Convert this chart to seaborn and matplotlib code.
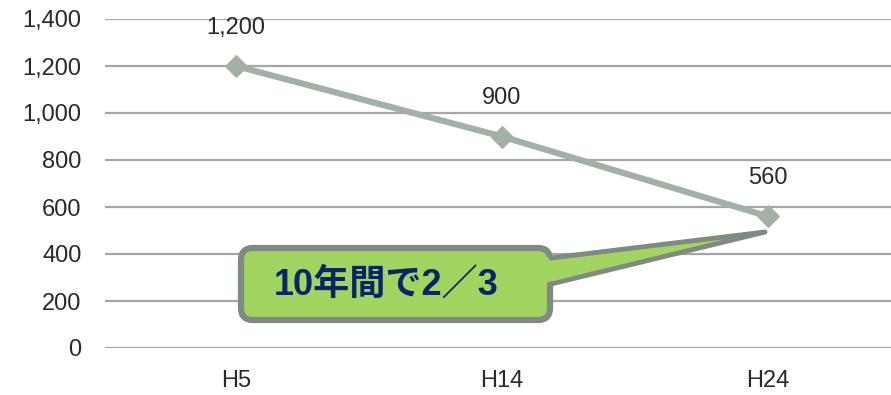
import matplotlib
matplotlib.use("Agg")
import matplotlib.pyplot as plt
import seaborn as sns
import pandas as pd
from matplotlib.patches import FancyBboxPatch, Polygon
from matplotlib.transforms import Affine2D

categories = ["H5", "H14", "H24"]
values = [1200, 900, 560]
value_labels = ["1,200", "900", "560"]
y_ticks = [0, 200, 400, 600, 800, 1000, 1200, 1400]
y_tick_labels = ["0", "200", "400", "600", "800", "1,000", "1,200", "1,400"]
callout_text = "10年間で2／3"

sns.set_theme(style="white")
plt.rcParams["font.family"] = ["Liberation Sans", "DejaVu Sans"]

W, H = 891, 395
fig = plt.figure(figsize=(W / 100, H / 100), dpi=100)
ax = fig.add_axes([105 / W, 1 - 348 / H, 1 - 105 / W, (348 - 19) / H])

df = pd.DataFrame({"cat": categories, "val": values})
line_col = "#a3b1a5"
sns.lineplot(data=df, x="cat", y="val", sort=False, ax=ax, color=line_col,
             linewidth=4.5, marker="D", markersize=11, markeredgecolor=line_col, zorder=3)

ax.set_xlim(-0.4925, 2.4624)
ax.set_ylim(0, 1400)
ax.set_yticks(y_ticks)
ax.set_yticklabels(y_tick_labels)
ax.set_xlabel("")
ax.set_ylabel("")
for s in ax.spines.values():
    s.set_visible(False)
ax.grid(axis="y", color="#a6a6a6", linewidth=1.6)
ax.grid(axis="x", visible=False)
ax.tick_params(axis="y", length=0, pad=17, labelsize=17, labelcolor="#2a2a2a")
ax.tick_params(axis="x", length=0, pad=16, labelsize=17, labelcolor="#2a2a2a")
ax.set_axisbelow(True)

for i, (v, lab) in enumerate(zip(values, value_labels)):
    ax.annotate(lab, (i, v), xytext=(0, 38), textcoords="offset pixels",
                ha="center", va="center", fontsize=17, color="#2a2a2a")

# callout in pixel coordinates (origin top-left)
px = Affine2D().scale(1, -1).translate(0, H) + Affine2D().scale(1 / W, 1 / H) + fig.transFigure
fill = "#a2d462"
edge = "#7f8a80"
box = FancyBboxPatch((241, 248), 309, 72, boxstyle="round,pad=0,rounding_size=12",
                     transform=px, facecolor=fill, edgecolor=edge, linewidth=4.5, zorder=5)
fig.add_artist(box)
tail_fill = Polygon([(540, 258), (765, 232), (540, 284)], closed=True, transform=px,
                    facecolor=fill, edgecolor="none", zorder=6)
fig.add_artist(tail_fill)
tail_edge = plt.Line2D([551, 765, 551], [258, 232, 284], transform=px, color=edge,
                       linewidth=3.5, solid_joinstyle="round", solid_capstyle="round", zorder=7)
fig.add_artist(tail_edge)
fig.text(386 / W, 1 - 285 / H, callout_text, ha="center", va="center", fontsize=26,
         fontweight="bold", color="#0c2466",
         family=["Liberation Sans", "Noto Sans CJK JP", "DejaVu Sans"], zorder=8)

fig.savefig("out.png", dpi=100)
